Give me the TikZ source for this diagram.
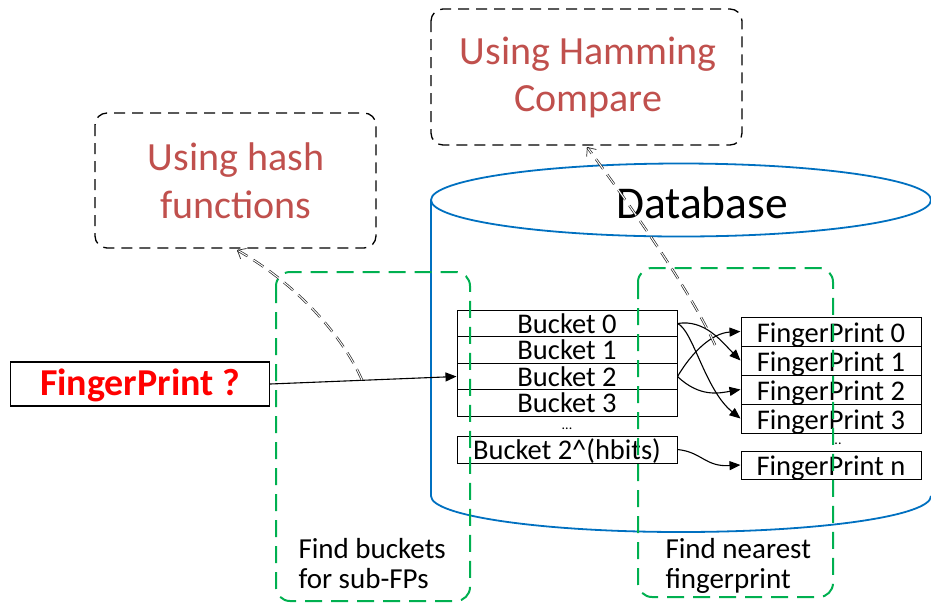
\documentclass[tikz,border=0pt]{standalone}
\usepackage{fontspec}
\setmainfont{Carlito}
\usetikzlibrary{arrows.meta}
\definecolor{dbblue}{HTML}{0070C0}
\definecolor{grn}{HTML}{00B050}
\definecolor{brick}{HTML}{C0504D}
\begin{document}
\begin{tikzpicture}[x=1pt,y=-1pt,
  cell/.style={draw=black,line width=1pt,rectangle,inner sep=0pt,font=\fontsize{28.5}{30}\selectfont},
  bcell/.style={cell,minimum width=220pt,minimum height=26.5pt,text height=21pt,text depth=2pt},
  fcell/.style={cell,minimum width=180pt,minimum height=29pt,text height=22pt,text depth=1pt},
  dots/.style={inner sep=0pt,font=\fontsize{14}{14}\selectfont},
  notebox/.style={draw=black,line width=1.3pt,dash pattern=on 11pt off 7pt,rounded corners=12pt},
  grnbox/.style={draw=grn,line width=2pt,dash pattern=on 17pt off 9pt,rounded corners=14pt},
  tip/.style={-{Triangle[length=11pt,width=9pt]},line width=1.1pt},
  ghost/.style={draw=black!85,line width=0.7pt,double=white,double distance=1pt,dash pattern=on 12pt off 7pt},
]
\useasboundingbox (0,0) rectangle (931,606);
% database cylinder
\draw[dbblue,line width=1.8pt] (431,200) -- (431,496) .. controls (431,516) and (543,532) .. (681,532) .. controls (819,532) and (931,516) .. (931,496);
\draw[dbblue,line width=1.8pt] (681,200) ellipse [x radius=250pt, y radius=36.5pt];
\node[font=\fontsize{45.5}{50}\selectfont] (db) at (702,203) {Database};
% note boxes
\draw[notebox] (431,9) rectangle (742,145);
\node[text=brick,align=center,font=\fontsize{40}{47}\selectfont] (ham) at (588,77) {Using Hamming\\Compare};
\coordinate (hamb) at (587,147);
\draw[notebox] (95,113) rectangle (376,248);
\node[text=brick,align=center,font=\fontsize{40}{48}\selectfont] (hash) at (236,181) {Using hash\\functions};
\coordinate (hashb) at (237,250);
% buckets
\node[bcell] (b0) at (567,323.5) {Bucket 0};
\node[bcell] (b1) at (567,350) {Bucket 1};
\node[bcell] (b2) at (567,376.5) {Bucket 2};
\node[bcell] (b3) at (567,403) {Bucket 3};
\node[dots] (bd) at (567,428.5) {...};
\node[bcell,minimum height=27pt] (bh) at (567,449.5) {Bucket 2\textasciicircum(hbits)};
% fingerprints
\node[fcell] (f0) at (831,331.5) {FingerPrint 0};
\node[fcell] (f1) at (831,360.5) {FingerPrint 1};
\node[fcell] (f2) at (831,389.5) {FingerPrint 2};
\node[fcell] (f3) at (831,418.5) {FingerPrint 3};
\node[dots] (fd) at (838,444) {..};
\node[fcell,minimum height=28pt] (fn) at (831,465) {FingerPrint n};
% query
\node[draw=black,line width=1.2pt,minimum width=259pt,minimum height=44pt,inner sep=0pt,text height=28pt,text depth=6pt,text=red,font=\fontsize{38}{40}\selectfont\bfseries] (q) at (140,384) {FingerPrint ?};
% arrows
\draw[tip] (q.east) -- (b2.west);
\draw[tip] (b0.east) .. controls (705,319) and (722,342) .. (f1.west);
\draw[tip] (b0.east) .. controls (693,330) and (705,390) .. (f3.west);
\draw[tip] (b2.east) .. controls (692,352) and (712,333) .. (f0.west);
\draw[tip] (b2.east) .. controls (700,398) and (720,393) .. (f2.west);
\draw[tip] (bh.east) .. controls (702,452) and (705,467) .. (fn.west);
% green boxes
\draw[grnbox] (276,272) rectangle (470,601);
\node[align=left,font=\fontsize{29}{30}\selectfont,anchor=west] (gl) at (295,564) {Find buckets\\for sub-FPs};
\draw[grnbox] (638,268) rectangle (833,597);
\node[align=left,font=\fontsize{29}{30}\selectfont,anchor=west] (gr) at (662,566) {Find nearest\\fingerprint};
% dashed pointers
\coordinate (qa) at (362,380);
\coordinate (fa) at (715,345);
\draw[ghost,-{Straight Barb[length=7pt,width=12pt]}] (qa) .. controls (340,330) and (290,280) .. (hashb);
\draw[ghost,-{Straight Barb[length=7pt,width=12pt]}] (fa) .. controls (690,290) and (630,205) .. (hamb);
\end{tikzpicture}
\end{document}
